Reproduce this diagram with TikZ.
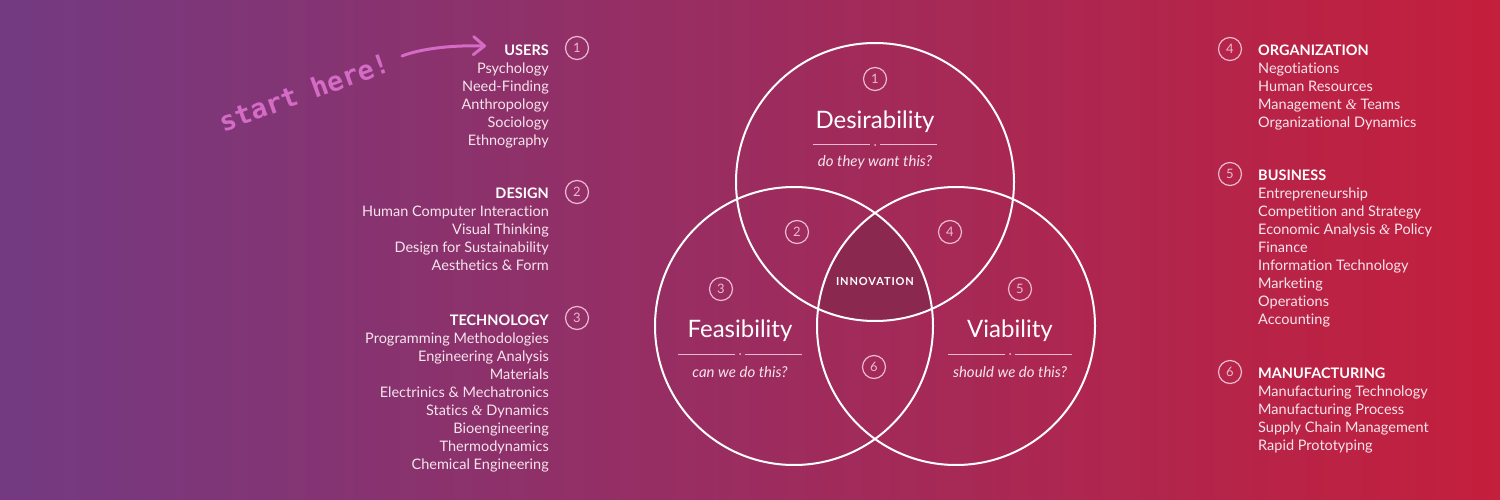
\documentclass[tikz,border=0pt]{standalone}
\usepackage{fontspec}
\setmainfont{Lato}[Ligatures=NoCommon]
\newfontfamily\ampfont{Liberation Serif}
\newfontfamily\handfont{DejaVu Sans Mono}
\newfontfamily\widefont{Lato}[LetterSpace=8]
\usetikzlibrary{arrows.meta,positioning}

\definecolor{leftbg}{HTML}{733A82}
\definecolor{rightbg}{HTML}{C41F3C}
\definecolor{innov}{HTML}{8A2850}
\definecolor{chalk}{HTML}{D46BC4}
\definecolor{itemcol}{HTML}{F6E4EC}
\definecolor{ringcol}{HTML}{EDB9CE}

\newcommand{\head}[1]{{\bfseries\color{white}#1}}
\newcommand{\amp}{{\ampfont\itshape\&}}

\tikzset{
  list/.style={inner sep=0, text=itemcol, font=\fontsize{14.5}{18}\selectfont},
  num/.style={circle, draw=ringcol, line width=1.2, minimum size=23, inner sep=0,
    text=ringcol, font=\fontsize{13}{13}\selectfont},
  ring/.style={draw=white, line width=2, radius=139pt},
  title/.style={text=white, font=\fontsize{24}{24}\selectfont},
  quest/.style={text=itemcol, font=\fontsize{15}{15}\selectfont\itshape},
  sep/.style={draw=ringcol, line width=1},
}

\begin{document}
\begin{tikzpicture}[x=1pt,y=-1pt]

% Background
\shade[left color=leftbg, right color=rightbg] (0,0) rectangle (1500,500);

% Venn circles
\coordinate (des) at (875,182);
\coordinate (fea) at (794,326);
\coordinate (via) at (956,326);
\begin{scope}
  \clip (des) circle (139pt);
  \clip (fea) circle (139pt);
  \fill[innov] (via) circle (139pt);
\end{scope}
\draw[ring] (des) circle;
\draw[ring] (fea) circle;
\draw[ring] (via) circle;

% Region numbers
\node[num] (v1) at (875,79) {1};
\node[num] (v2) at (797,232) {2};
\node[num] (v4) at (950,232) {4};
\node[num] (v3) at (721,289) {3};
\node[num] (v5) at (1020,289) {5};
\node[num] (v6) at (874,367) {6};

% Titles
\node[title] (desT) at (875,122) {Desirability};
\node[title] (feaT) at (740,331) {Feasibility};
\node[title] (viaT) at (1010,331) {Viability};
\foreach \cx/\cy in {875/145, 740/354, 1010/354} {
  \draw[sep] (\cx-62,\cy) -- (\cx-5,\cy);
  \draw[sep] (\cx+5,\cy) -- (\cx+62,\cy);
  \fill[ringcol] (\cx,\cy) circle (1pt);
}
\node[quest] (desQ) at (875,162) {do they want this?};
\node[quest] (feaQ) at (740,372) {can we do this?};
\node[quest] (viaQ) at (1010,372) {should we do this?};
\node[text=white, font=\widefont\fontsize{11}{11}\selectfont\bfseries] (inno) at (875,282) {INNOVATION};

% Left lists
\node[list, align=right, anchor=north east] (users) at (549,45)
  {\head{USERS}\\Psychology\\Need-Finding\\Anthropology\\Sociology\\Ethnography};
\node[list, align=right, anchor=north east] (design) at (549,188)
  {\head{DESIGN}\\Human Computer Interaction\\Visual Thinking\\Design for Sustainability\\Aesthetics \& Form};
\node[list, align=right, anchor=north east] (tech) at (549,315)
  {\head{TECHNOLOGY}\\Programming Methodologies\\Engineering Analysis\\Materials\\Electrinics \& Mechatronics\\Statics \amp{} Dynamics\\Bioengineering\\Thermodynamics\\Chemical Engineering};
\node[num] (n1) at (577,48) {1};
\node[num] (n2) at (577,192) {2};
\node[num] (n3) at (577,318) {3};

% Right lists
\node[list, align=left, anchor=north west] (org) at (1258,45)
  {\head{ORGANIZATION}\\Negotiations\\Human Resources\\Management \amp{} Teams\\Organizational Dynamics};
\node[list, align=left, anchor=north west] (bus) at (1258,170)
  {\head{BUSINESS}\\Entrepreneurship\\Competition and Strategy\\Economic Analysis \amp{} Policy\\Finance\\Information Technology\\Marketing\\Operations\\Accounting};
\node[list, align=left, anchor=north west] (manu) at (1258,368)
  {\head{MANUFACTURING}\\Manufacturing Technology\\Manufacturing Process\\Supply Chain Management\\Rapid Prototyping};
\node[num] (n4) at (1230,49) {4};
\node[num] (n5) at (1230,174) {5};
\node[num] (n6) at (1230,372) {6};

% Start here
\node[rotate=20, text=chalk, font=\handfont\bfseries\fontsize{27}{27}\selectfont] (start) at (304,92) {start here!};
\coordinate (arrowtail) at (402,56);
\coordinate (arrowtip) at (486,46);
\draw[chalk, line width=3, line cap=round, -{Straight Barb[length=11pt,width=18pt,round]}]
  (arrowtail) .. controls (420,49) and (450,45) .. (arrowtip);

\end{tikzpicture}
\end{document}
